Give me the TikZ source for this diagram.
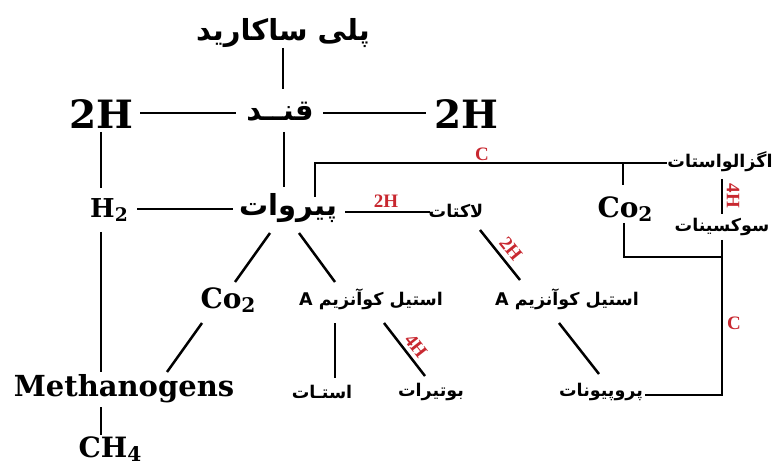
\documentclass[tikz,border=0pt]{standalone}
\usepackage{fontspec}
\setmainfont{DejaVu Serif}
\newfontfamily\fa[Script=Arabic]{DejaVu Sans}
\newfontfamily\labserif{Liberation Serif}
\TeXXeTstate=1
\definecolor{labred}{RGB}{200,40,48}
% small lowered index for chemical formulas
\newcommand{\lowidx}[1]{\raisebox{-0.32ex}{\scalebox{0.72}{#1}}}
\newcommand{\fatext}[1]{\beginR #1\endR}

\tikzset{
  con/.style={line width=2.5pt},
  faL/.style={font=\fa\bfseries\fontsize{29}{33}\selectfont, inner sep=0pt},
  faS/.style={font=\fa\bfseries\fontsize{17.5}{20}\selectfont, inner sep=0pt},
  latL/.style={font=\bfseries\fontsize{39}{43}\selectfont, inner sep=0pt},
  latM/.style={font=\bfseries\fontsize{28}{32}\selectfont, inner sep=0pt},
  redlab/.style={font=\labserif\bfseries\fontsize{19}{21}\selectfont, text=labred, inner sep=0pt},
}

\begin{document}
\begin{tikzpicture}[x=1pt,y=-1pt]
\useasboundingbox (0,0) rectangle (772,468);

% ---- nodes ----
\node[faL] (poly)  at (283,33)  {\fatext{پلی ساکارید}};
\node[faL] (sugar) at (280,112) {\fatext{قنــد}};
\node[latL] (hL)   at (101,114) {2H};
\node[latL] (hR)   at (466,114) {2H};
\node[latM, font=\bfseries\fontsize{26}{30}\selectfont] (h2) at (109,210) {H\lowidx{2}};
\node[faL] (pyr)   at (288,208) {\fatext{پیروات}};
\node[faS] (lac)   at (456,211) {\fatext{لاکتات}};
\node[faS] (oxa)   at (720,162) {\fatext{اگزالواستات}};
\node[latM] (co2r) at (625,209) {Co\lowidx{2}};
\node[faS] (succ)  at (722,227) {\fatext{سوکسینات}};
\node[latM] (co2l) at (228,300) {Co\lowidx{2}};
\node[faS] (acm)   at (371,299) {\fatext{استیل کوآنزیم A}};
\node[faS] (acr)   at (567,299) {\fatext{استیل کوآنزیم A}};
\node[latM, font=\bfseries\fontsize{29}{33}\selectfont] (meth) at (124,389) {Methanogens};
\node[faS] (acet)  at (322,392) {\fatext{استـات}};
\node[faS] (but)   at (431,392) {\fatext{بوتیرات}};
\node[faS] (prop)  at (601,392) {\fatext{پروپیونات}};
\node[latM] (ch4)  at (110,449) {CH\lowidx{4}};

% ---- connectors ----
\draw[con] ([shift={(0,15)}]poly.center) -- ([shift={(3,-23)}]sugar.center);
\draw[con] ([shift={(39,-1)}]hL.center) -- ([shift={(-44,1)}]sugar.center);
\draw[con] ([shift={(43,1)}]sugar.center) -- ([shift={(-40,-1)}]hR.center);
\draw[con] ([shift={(0,18)}]hL.center) -- ([shift={(-8,-22)}]h2.center);
\draw[con] ([shift={(-8,22)}]h2.center) -- ([shift={(-23,-17)}]meth.center);
\draw[con] ([shift={(-23,18)}]meth.center) -- ([shift={(-9,-14)}]ch4.center);
\draw[con] ([shift={(4,20)}]sugar.center) -- ([shift={(-4,-21)}]pyr.center);
\draw[con] ([shift={(28,-1)}]h2.center) -- ([shift={(-55,1)}]pyr.center);
\draw[con] ([shift={(57,4)}]pyr.center) -- ([shift={(-26,1)}]lac.center);
\node[redlab] (l2h) at (386,201) {2H};

% pyruvate -> oxaloacetate, with the CO2 branch
\coordinate (jt) at ([shift={(-97,1)}]oxa.center);
\draw[con] ([shift={(27,-11)}]pyr.center) |- ([shift={(-53,1)}]oxa.center);
\node[redlab] (lc1) at (482,154) {C};
\draw[con] ([shift={(-2,0)}]co2r |- jt) -- ([shift={(-2,-24)}]co2r.center);
\draw[con] ([shift={(-1,14)}]co2r.center) |- ([shift={(0,30)}]succ.center);

% oxaloacetate -> succinate -> propionate
\coordinate (oxs) at ([shift={(0,17)}]oxa.center);
\draw[con] (oxs -| succ) -- ([shift={(0,-13)}]succ.center);
\node[redlab, rotate=-90] (l4h) at (733,196) {4H};
\draw[con] ([shift={(0,13)}]succ.center) |- ([shift={(44,3)}]prop.center);
\node[redlab] (lc2) at (734,323) {C};

% pyruvate branches
\draw[con] ([shift={(-18,25)}]pyr.center) -- ([shift={(7,-18)}]co2l.center);
\draw[con] ([shift={(11,25)}]pyr.center) -- ([shift={(-36,-17)}]acm.center);
\draw[con] ([shift={(-26,23)}]co2l.center) -- ([shift={(43,-17)}]meth.center);
\draw[con] ([shift={(-36,24)}]acm.center) -- ([shift={(13,-14)}]acet.center);
\draw[con] ([shift={(13,24)}]acm.center) -- ([shift={(-6,-16)}]but.center);
\node[redlab, rotate=-52] (l4hb) at (416,346) {4H};

% lactate -> acetyl-CoA -> propionate
\draw[con] ([shift={(24,19)}]lac.center) -- ([shift={(-47,-19)}]acr.center);
\node[redlab, rotate=-51] (l2hb) at (511,249) {2H};
\draw[con] ([shift={(-8,24)}]acr.center) -- ([shift={(-2,-18)}]prop.center);
\end{tikzpicture}
\end{document}
